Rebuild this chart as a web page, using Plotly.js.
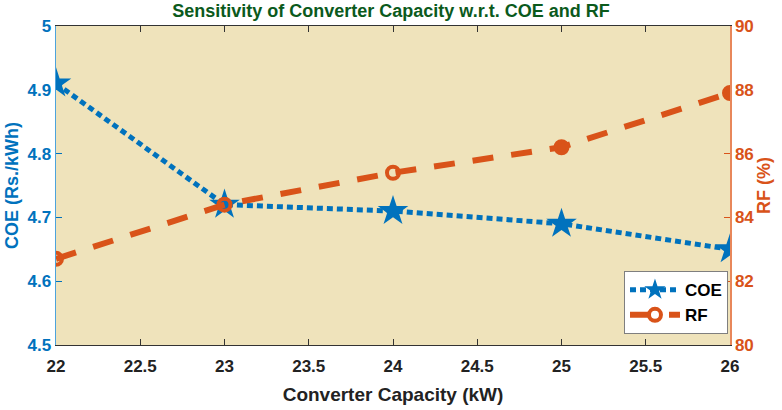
<!DOCTYPE html>
<html><head><meta charset="utf-8">
<script src="https://cdn.plot.ly/plotly-3.0.1.min.js"></script>
<style>html,body{margin:0;padding:0;background:#fff;}#chart{width:782px;height:410px;}</style>
</head><body><div id="chart"></div>
<script>
const capacity = [22, 23, 24, 25, 26];
const coe = [4.91, 4.72, 4.71, 4.69, 4.65];
const rf = [82.7, 84.4, 85.4, 86.2, 87.9];
const xTicks = [22, 22.5, 23, 23.5, 24, 24.5, 25, 25.5, 26];

const FONT = 'Liberation Sans, Arial, sans-serif';
const BLUE = '#0072BD', ORANGE = '#D95319';

const traces = [
  {x: capacity, y: coe, name: 'COE', type: 'scatter', mode: 'lines+markers', yaxis: 'y',
   line: {color: BLUE, width: 5, dash: '6px,4px'},
   marker: {symbol: 'star', size: 23, color: BLUE}},
  {x: capacity, y: rf, name: 'RF', type: 'scatter', mode: 'lines+markers', yaxis: 'y2',
   line: {color: ORANGE, width: 6, dash: '21px,18px'},
   marker: {symbol: ['circle-open','circle-open','circle-open','circle','circle'], size: 12, color: ORANGE,
            line: {color: ORANGE, width: 4}}}
];

const layout = {
  width: 782, height: 410,
  margin: {l: 56, r: 52, t: 26, b: 65},
  paper_bgcolor: '#ffffff', plot_bgcolor: '#EFE3BB',
  font: {family: FONT, size: 16, weight: 'bold'},
  title: {text: 'Sensitivity of Converter Capacity w.r.t. COE and RF', font: {family: FONT, size: 18, color: '#0B5A1C', weight: 'bold'},
          x: 0.5, xanchor: 'center', y: 0.99, yanchor: 'top'},
  showlegend: true,
  legend: {x: 0.997, xanchor: 'right', y: 0.034, yanchor: 'bottom', bgcolor: '#ffffff', bordercolor: '#7f7f7f', borderwidth: 1,
           font: {family: FONT, size: 17, color: '#000', weight: 'bold'}, tracegroupgap: 0, itemwidth: 50},
  xaxis: {range: [22, 26], tickvals: xTicks, ticktext: xTicks.map(String), ticks: 'inside', ticklen: 6, tickcolor: '#333',
          showline: true, linecolor: '#333', linewidth: 1, mirror: 'ticks', showgrid: false, zeroline: false,
          ticklabelstandoff: 6,
          tickfont: {family: FONT, size: 17, color: '#222', weight: 'bold'},
          title: {text: 'Converter Capacity (kW)', font: {family: FONT, size: 19, color: '#222', weight: 'bold'}, standoff: 12}},
  yaxis: {range: [4.5, 5], dtick: 0.1, tick0: 4.5, ticks: 'inside', ticklen: 6, tickcolor: BLUE, showline: true, linecolor: '#4DA3DC', linewidth: 1.5,
          showgrid: false, zeroline: false, tickfont: {family: FONT, size: 17, color: BLUE, weight: 'bold'},
          title: {text: 'COE (Rs./kWh)', font: {family: FONT, size: 18, color: BLUE, weight: 'bold'}, standoff: 4}},
  yaxis2: {range: [80, 90], dtick: 2, tick0: 80, overlaying: 'y', side: 'right', ticks: 'inside', ticklen: 6, tickcolor: ORANGE,
           showline: true, linecolor: '#E8875A', linewidth: 1.5, showgrid: false, zeroline: false,
           tickfont: {family: FONT, size: 17, color: ORANGE, weight: 'bold'},
           title: {text: 'RF (%)', font: {family: FONT, size: 18, color: ORANGE, weight: 'bold'}, standoff: 4}}
};

Plotly.newPlot('chart', traces, layout, {displayModeBar: false, staticPlot: true});
</script></body></html>
